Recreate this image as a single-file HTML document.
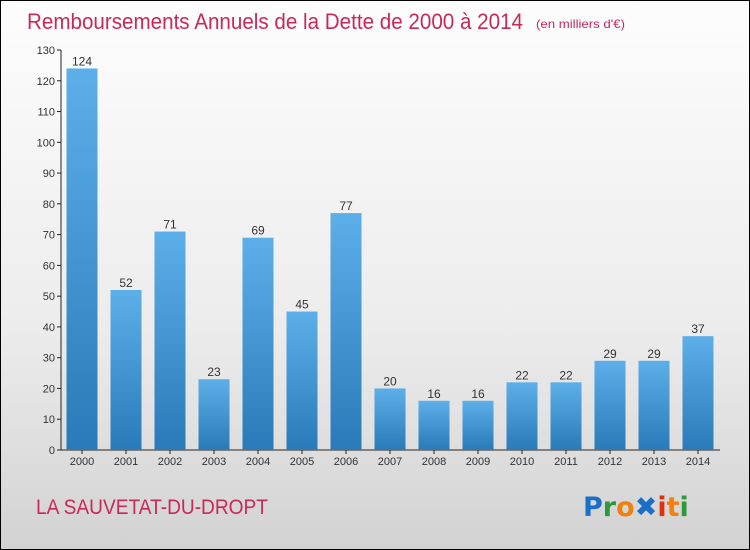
<!DOCTYPE html>
<html><head><meta charset="utf-8"><style>
body{margin:0;width:750px;height:550px;overflow:hidden;font-family:"Liberation Sans",sans-serif}
#wrap{position:absolute;left:0;top:0;width:748px;height:548px;border:1px solid #000;background:linear-gradient(#fdfdfd,#ececec 60%,#d2d2d2)}
</style></head><body>
<div id="wrap"></div>
<svg id="chart" width="750" height="550" style="position:absolute;left:0;top:0">
<defs><linearGradient id="bg" x1="0" y1="0" x2="0" y2="1"><stop offset="0" stop-color="#5dafe9"/><stop offset="1" stop-color="#2a7ab9"/></linearGradient></defs>
<text x="27" y="29" font-size="22" fill="#c8285a" textLength="496" lengthAdjust="spacingAndGlyphs">Remboursements Annuels de la Dette de 2000 à 2014</text>
<text x="536" y="28" font-size="12" fill="#c8285a" textLength="89" lengthAdjust="spacingAndGlyphs">(en milliers d'€)</text>
<g id="axes"></g><g id="bars"></g>
<text x="36" y="514" font-size="21" fill="#c8285a" textLength="232" lengthAdjust="spacingAndGlyphs">LA SAUVETAT-DU-DROPT</text>
<text x="583" y="516" font-size="27" font-weight="bold" font-family="DejaVu Sans, sans-serif"><tspan fill="#1a6fc8">P</tspan><tspan fill="#2a9a3a">r</tspan><tspan fill="#f08010">o</tspan><tspan fill="#1a6fc8">✖</tspan><tspan fill="#e03010">i</tspan><tspan fill="#f08010">t</tspan><tspan fill="#2a9a3a">i</tspan></text>
</svg>
<script>
const years=[2000,2001,2002,2003,2004,2005,2006,2007,2008,2009,2010,2011,2012,2013,2014];
const values=[124,52,71,23,69,45,77,20,16,16,22,22,29,29,37];
const yTicks=[0,10,20,30,40,50,60,70,80,90,100,110,120,130];
const NS="http://www.w3.org/2000/svg";
const y0=450,yTop=50,yMax=130;
function yScale(v){return y0-(v/yMax)*(y0-yTop);}
function xScale(i){return 82+i*44;}
const ax=document.getElementById('axes'),bg=document.getElementById('bars');
function mk(tag,attrs,parent){const e=document.createElementNS(NS,tag);for(const k in attrs)e.setAttribute(k,attrs[k]);parent.appendChild(e);return e;}
let l=mk('line',{x1:61,y1:yTop,x2:61,y2:y0,stroke:'#222'},ax);


l=mk('line',{x1:61,y1:y0,x2:720,y2:y0,stroke:'#222'},ax);


yTicks.forEach(v=>{const y=yScale(v);
mk('line',{x1:57,y1:y,x2:61,y2:y,stroke:'#222'},ax);
const t=mk('text',{x:55,y:y+4,'text-anchor':'end','font-size':11,fill:'#333'},ax);t.textContent=v;

});
years.forEach((yr,i)=>{const x=xScale(i),v=values[i],y=yScale(v);
const r=mk('rect',{x:x-15.5,y:y,width:31,height:y0-y,fill:'url(#bg)'},bg);


const t=mk('text',{x:x,y:y-3,'text-anchor':'middle','font-size':12,fill:'#333'},bg);t.textContent=v;


const tx=mk('text',{x:x,y:465,'text-anchor':'middle','font-size':11,fill:'#333'},bg);tx.textContent=yr;


mk('line',{x1:x,y1:y0,x2:x,y2:y0+4,stroke:'#222'},ax);});
</script>
</body></html>
